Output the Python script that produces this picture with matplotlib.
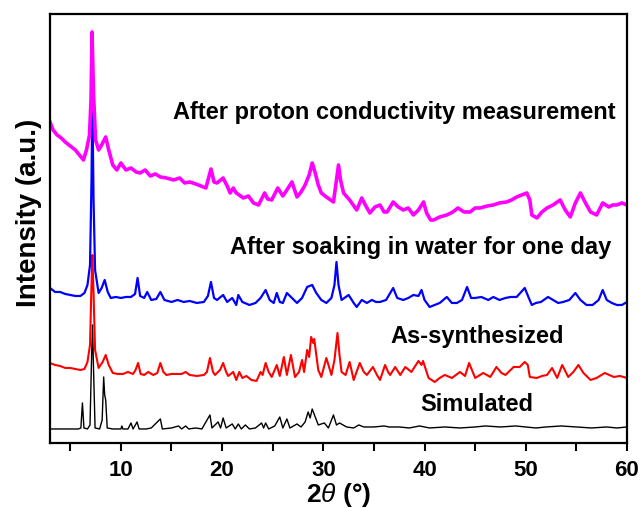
import numpy as np
import matplotlib

matplotlib.use("Agg")
import matplotlib.pyplot as plt

plt.rcParams["font.family"] = ["Liberation Sans", "DejaVu Sans"]
plt.rcParams["mathtext.fontset"] = "custom"
plt.rcParams["mathtext.rm"] = "Liberation Sans"
plt.rcParams["mathtext.it"] = "Liberation Sans:italic"
plt.rcParams["mathtext.bf"] = "Liberation Sans:bold"

# ── data (2theta in degrees, intensity in a.u. incl. vertical offsets) ─────────
sim_x = [3.0, 5.8, 6.05, 6.2, 6.35, 6.7, 6.95, 7.1, 7.2, 7.3, 7.45, 7.9, 8.15, 8.3,
         8.4, 8.5, 8.65, 9.2, 10.0, 10.1, 10.2, 10.7, 11.0, 11.2, 11.6, 11.8, 12.5,
         13.0, 13.9, 14.1, 15.0, 15.7, 16.0, 16.4, 16.7, 17.4, 18.0, 18.8, 19.0,
         19.3, 19.6, 19.85, 20.1, 20.4, 21.0, 21.3, 21.6, 21.9, 22.3, 22.7, 23.3,
         23.9, 24.1, 24.3, 24.6, 25.2, 25.7, 26.0, 26.4, 26.7, 27.4, 27.8, 28.2,
         28.5, 28.7, 28.9, 29.2, 29.5, 30.1, 30.5, 31.0, 31.3, 31.6, 32.3, 33.0,
         33.5, 34.0, 35.0, 36.0, 36.5, 37.5, 38.5, 39.5, 40.5, 42.0, 43.5, 45.0,
         46.0, 47.5, 49.0, 50.0, 51.0, 52.0, 53.5, 55.0, 56.5, 58.0, 59.0, 60.0]
sim_y = [14, 14, 15, 40, 15, 14, 18, 83, 118, 73, 15, 14, 23, 66,
         48, 43, 15, 14, 14, 17, 14, 14, 20, 14, 21, 14, 14,
         15, 24, 14, 15, 17, 14, 17, 14, 15, 14, 28, 15,
         18, 21, 15, 25, 15, 19, 14, 19, 14, 18, 14, 15,
         20, 15, 20, 14, 17, 26, 15, 24, 15, 19, 16, 21,
         31, 25, 34, 26, 18, 20, 15, 28, 18, 20, 16, 15,
         18, 16, 16, 17, 16, 16, 15, 17, 15, 16, 15, 16,
         17, 16, 17, 16, 15, 16, 17, 16, 15, 16, 15, 16]

as_x = [3.0, 3.5, 4.0, 4.5, 5.0, 5.5, 6.0, 6.4, 6.7, 6.95, 7.1, 7.18, 7.3, 7.45,
        7.8, 8.2, 8.5, 8.8, 9.2, 9.7, 10.2, 10.7, 11.2, 11.45, 11.7, 11.95, 12.3,
        12.7, 13.2, 13.6, 13.9, 14.2, 14.5, 15.0, 15.5, 16.0, 16.4, 16.8, 17.5,
        18.2, 18.5, 18.8, 19.1, 19.3, 19.8, 20.1, 20.4, 20.6, 21.1, 21.4, 21.7,
        22.0, 22.4, 22.9, 23.4, 23.8, 24.0, 24.3, 24.6, 24.9, 25.4, 25.7, 26.1,
        26.4, 26.8, 27.2, 27.6, 27.9, 28.1, 28.4, 28.6, 28.8, 29.0, 29.1, 29.5,
        29.8, 30.3, 30.8, 31.1, 31.4, 31.6, 31.8, 32.2, 32.6, 33.0, 33.6, 34.0,
        34.3, 34.9, 35.3, 35.6, 36.1, 36.4, 36.6, 37.1, 37.6, 38.1, 38.7, 39.4,
        39.7, 39.85, 40.4, 41.0, 41.5, 42.0, 42.7, 43.5, 44.0, 44.4, 45.0, 45.8,
        46.5, 47.1, 47.6, 48.0, 48.8, 49.4, 49.9, 50.2, 50.4, 51.1, 51.6, 52.1,
        52.6, 53.1, 53.6, 54.2, 54.7, 55.2, 55.7, 56.4, 57.0, 57.8, 58.7, 59.3, 60.0]
as_y = [80, 78, 77, 75, 75, 74, 73, 74, 81, 98, 160, 188, 150, 93,
        75, 81, 88, 78, 70, 69, 69, 71, 69, 73, 80, 69, 68,
        71, 68, 70, 80, 71, 68, 69, 69, 69, 71, 68, 67,
        68, 71, 85, 71, 68, 73, 80, 71, 67, 71, 63, 71,
        65, 67, 63, 62, 71, 68, 80, 71, 66, 78, 67, 86,
        68, 88, 66, 71, 83, 71, 93, 86, 106, 100, 104, 73,
        66, 85, 68, 83, 110, 88, 71, 68, 81, 63, 80, 71,
        68, 76, 68, 63, 78, 71, 68, 76, 68, 76, 71, 82,
        78, 82, 65, 61, 65, 68, 65, 71, 67, 80, 65, 70,
        66, 76, 70, 68, 76, 76, 81, 78, 66, 65, 67, 68,
        75, 65, 78, 66, 71, 78, 70, 63, 65, 70, 66, 67, 65]

soak_x = [3.0, 3.5, 4.0, 4.5, 5.0, 5.5, 6.0, 6.4, 6.7, 6.95, 7.1, 7.18, 7.3, 7.45,
          7.8, 8.1, 8.4, 8.7, 9.0, 9.5, 10.0, 10.5, 11.0, 11.4, 11.65, 11.9, 12.3,
          12.6, 13.0, 13.5, 13.9, 14.3, 15.0, 15.6, 16.2, 16.8, 17.5, 18.2, 18.6,
          18.9, 19.2, 19.5, 20.1, 20.5, 21.0, 21.4, 21.6, 22.0, 22.7, 23.3, 23.8,
          24.3, 24.7, 25.1, 25.4, 25.7, 26.0, 26.4, 26.9, 27.4, 27.9, 28.4, 28.9,
          29.3, 29.8, 30.3, 30.8, 31.1, 31.3, 31.5, 31.8, 32.5, 33.0, 33.3, 33.8,
          34.3, 34.8, 35.2, 35.6, 36.2, 36.9, 37.3, 37.9, 38.4, 38.9, 39.4, 39.7,
          40.0, 40.5, 41.0, 41.5, 42.2, 42.7, 43.2, 43.7, 44.2, 44.6, 45.0, 45.6,
          46.3, 46.8, 47.4, 48.0, 48.5, 49.1, 49.9, 50.3, 50.6, 51.0, 51.5, 52.2,
          52.7, 53.2, 53.7, 54.3, 54.9, 55.4, 56.0, 56.6, 57.2, 57.6, 58.0, 58.5,
          59.0, 59.5, 60.0]
soak_y = [155, 151, 151, 149, 148, 147, 147, 150, 158, 178, 263, 344, 243, 173,
          150, 155, 163, 151, 145, 146, 145, 146, 146, 149, 165, 147, 145,
          151, 143, 144, 151, 143, 141, 143, 141, 142, 140, 141, 147,
          161, 145, 143, 148, 141, 145, 138, 148, 141, 138, 140, 145,
          153, 143, 140, 150, 141, 140, 150, 145, 140, 145, 156, 158,
          150, 143, 140, 145, 158, 181, 158, 143, 148, 140, 136, 143,
          140, 143, 141, 141, 143, 155, 145, 143, 145, 148, 147, 153,
          143, 136, 138, 140, 146, 140, 140, 143, 156, 145, 145, 146,
          143, 146, 143, 145, 146, 146, 155, 145, 138, 140, 141, 146,
          143, 140, 141, 143, 150, 143, 138, 138, 143, 153, 143, 140,
          138, 138, 141]

proton_x = [3.0, 3.3, 3.7, 4.1, 4.5, 5.0, 5.5, 5.9, 6.3, 6.6, 6.9, 7.05, 7.15, 7.3,
            7.5, 7.8, 8.1, 8.5, 8.8, 9.2, 9.6, 10.0, 10.5, 11.0, 11.5, 11.9, 12.4,
            12.9, 13.4, 13.9, 14.5, 15.2, 15.8, 16.3, 16.8, 17.4, 17.9, 18.4, 18.9,
            19.2, 19.5, 20.1, 20.5, 20.8, 21.1, 21.4, 22.1, 22.6, 23.1, 23.6, 24.2,
            24.5, 24.9, 25.5, 26.0, 26.4, 26.9, 27.4, 27.8, 28.2, 28.6, 28.9, 29.2,
            29.5, 29.8, 30.3, 31.0, 31.3, 31.5, 31.7, 32.0, 32.6, 33.3, 33.8, 34.2,
            34.6, 35.1, 35.6, 36.0, 36.3, 36.9, 37.4, 37.9, 38.4, 38.9, 39.4, 39.9,
            40.2, 40.6, 40.9, 41.5, 42.2, 42.8, 43.3, 43.9, 44.5, 45.0, 45.5, 46.2,
            46.8, 47.4, 48.1, 48.6, 49.1, 49.6, 50.1, 50.4, 50.6, 51.1, 51.6, 52.1,
            52.7, 53.4, 53.9, 54.4, 54.9, 55.4, 55.9, 56.4, 57.0, 57.6, 58.2, 58.6,
            59.0, 59.5, 60.0]
proton_y = [321, 313, 308, 305, 301, 297, 293, 288, 283, 293, 308, 343, 411, 348,
            303, 293, 298, 306, 293, 278, 273, 280, 273, 275, 271, 270, 273,
            267, 269, 266, 265, 263, 265, 260, 261, 259, 257, 255, 274,
            261, 260, 265, 257, 250, 255, 250, 245, 247, 240, 238, 250,
            244, 243, 255, 247, 253, 261, 246, 251, 258, 268, 280, 270,
            258, 250, 246, 241, 263, 278, 263, 250, 243, 233, 245, 237,
            230, 236, 238, 231, 231, 241, 236, 233, 235, 228, 233, 241,
            230, 223, 223, 226, 228, 231, 235, 231, 231, 235, 235, 237,
            238, 240, 241, 243, 246, 248, 250, 243, 228, 225, 231, 235,
            238, 243, 233, 226, 240, 250, 240, 231, 228, 240, 236, 238,
            238, 240, 238]

SERIES = [
    (sim_x, sim_y, "black", 1.0),
    (as_x, as_y, "#ff0000", 1.5),
    (soak_x, soak_y, "#0000ff", 1.6),
    (proton_x, proton_y, "#ff00ff", 2.6),
]

LABELS = [
    ("After proton conductivity measurement", 15.15, 330),
    ("After soaking in water for one day", 20.8, 195),
    ("As-synthesized", 36.6, 106),
    ("Simulated", 39.6, 38),
]

# ── plot ────────────────────────────────────────────────────────────────────
fig = plt.figure(figsize=(6.43, 5.08), dpi=100)
ax = fig.add_axes([0.0778, 0.128, 0.8973, 0.8445])

for xs, ys, color, lw in SERIES:
    ax.plot(np.array(xs), np.array(ys), color=color, linewidth=lw)

for text, x, y in LABELS:
    ax.text(x, y, text, fontsize=17, fontweight="bold", ha="left", va="center")

ax.set_xlim(3, 60)
ax.set_ylim(0, 429)
ax.set_xticks([10, 20, 30, 40, 50, 60])
ax.set_xticks([5, 15, 25, 35, 45, 55], minor=True)
ax.set_yticks([])
ax.tick_params(axis="x", which="both", direction="out", length=6, width=1.5,
               labelsize=16, pad=6)
for lab in ax.get_xticklabels():
    lab.set_fontweight("bold")
for sp in ax.spines.values():
    sp.set_linewidth(1.6)

ax.set_xlabel(r"$\mathbf{2}\mathit{\theta}$ (°)", fontsize=19, fontweight="bold",
              labelpad=0)
ax.set_ylabel("Intensity (a.u.)", fontsize=20, fontweight="bold")
ax.yaxis.set_label_coords(-0.014, 0.536)

fig.savefig("out.png", dpi=100)
